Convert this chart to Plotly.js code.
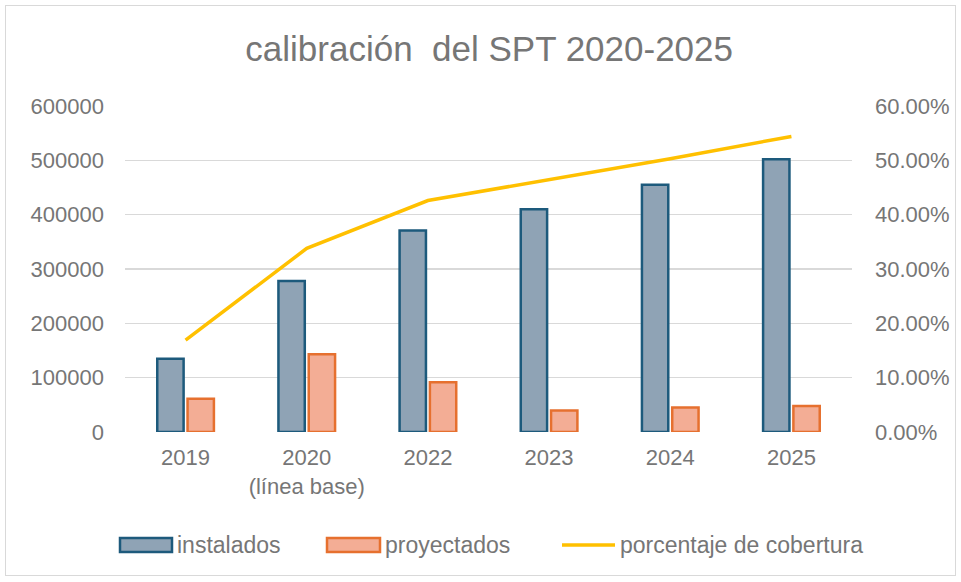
<!DOCTYPE html>
<html>
<head>
<meta charset="utf-8">
<script src="https://cdn.plot.ly/plotly-3.0.1.min.js"></script>
<style>
  html, body { margin: 0; padding: 0; background: #ffffff; }
  #frame { position: absolute; left: 5px; top: 5px; width: 951px; height: 571px; border: 1.5px solid #d9d9d9; box-sizing: border-box; }
  #chart { position: absolute; left: 0; top: 0; width: 961px; height: 582px; }
</style>
</head>
<body>
<div id="frame"></div>
<div id="chart"></div>
<script>
// ---- data ----
const categories = ["2019", "2020<br>(línea base)", "2022", "2023", "2024", "2025"];
const instalados = [135000, 278000, 371000, 410000, 455000, 502000];
const proyectados = [61000, 143000, 91500, 39500, 45000, 48000];
const cobertura = [0.169, 0.338, 0.426, 0.464, 0.503, 0.544];
const seriesNames = ["instalados", "proyectados", "porcentaje de cobertura"];
const titleText = "calibración  del SPT 2020-2025";

// ---- styling ----
const W = 961, H = 582;
const plotL = 125, plotR = 852, plotT = 106, plotB = 432;
const gray = "#767676";
const fontFam = "Liberation Sans, Arial, sans-serif";
const instFill = "#8fa3b5", instLine = "#1d5a7c";
const proyFill = "#f3ad95", proyLine = "#e6702f";
const lineCol = "#ffc000";

const px = x => (x - plotL) / (plotR - plotL);
const py = y => (plotB - y) / (plotB - plotT);

const traces = [
  { type: "bar", name: seriesNames[0], x: categories, y: instalados,
    marker: { color: instFill, line: { color: instLine, width: 2.5 } }, showlegend: false },
  { type: "bar", name: seriesNames[1], x: categories, y: proyectados,
    marker: { color: proyFill, line: { color: proyLine, width: 2.5 } }, showlegend: false },
  { type: "scatter", mode: "lines", name: seriesNames[2], x: categories, y: cobertura, yaxis: "y2",
    line: { color: lineCol, width: 3.5 }, showlegend: false }
];

// custom legend (wide swatches like the original)
const legY = 545;
const legendItems = [
  { kind: "bar", x0: 120, x1: 172, fill: instFill, line: instLine, text: seriesNames[0], tx: 175 },
  { kind: "bar", x0: 327, x1: 380, fill: proyFill, line: proyLine, text: seriesNames[1], tx: 383 },
  { kind: "line", x0: 562, x1: 615, fill: lineCol, line: lineCol, text: seriesNames[2], tx: 618 }
];
const shapes = [], annotations = [];
legendItems.forEach(it => {
  if (it.kind === "bar") {
    shapes.push({ type: "rect", xref: "paper", yref: "paper",
      x0: px(it.x0), x1: px(it.x1), y0: py(legY + 7), y1: py(legY - 7),
      fillcolor: it.fill, line: { color: it.line, width: 2.5 } });
  } else {
    shapes.push({ type: "line", xref: "paper", yref: "paper",
      x0: px(it.x0), x1: px(it.x1), y0: py(legY), y1: py(legY),
      line: { color: it.line, width: 3.5 } });
  }
  annotations.push({ xref: "paper", yref: "paper", x: px(it.tx), y: py(legY),
    xanchor: "left", yanchor: "middle", showarrow: false, text: it.text,
    font: { family: fontFam, size: 23, color: gray } });
});

const layout = {
  width: W, height: H,
  paper_bgcolor: "rgba(0,0,0,0)", plot_bgcolor: "rgba(0,0,0,0)",
  margin: { l: plotL, r: W - plotR, t: plotT, b: H - plotB, pad: 0 },
  font: { family: fontFam, size: 22, color: gray },
  title: { text: titleText, x: 0.509, xanchor: "center", y: 1 - 49 / H, yanchor: "middle",
    font: { family: fontFam, size: 35, color: gray } },
  barmode: "group", bargap: 0.5, bargroupgap: 0.13,
  showlegend: false,
  xaxis: { type: "category", showgrid: false, zeroline: false, showline: false,
    ticks: "", ticklabelstandoff: 10, tickfont: { size: 22, color: gray } },
  yaxis: { range: [0, 600000], dtick: 100000, tick0: 0, tickformat: "d",
    showgrid: true, gridcolor: "#d9d9d9", gridwidth: 1.5, zeroline: false, showline: false,
    ticks: "", ticklabelstandoff: 20, tickfont: { size: 22, color: gray } },
  yaxis2: { range: [0, 0.6], dtick: 0.1, tick0: 0, tickformat: ".2%", overlaying: "y", side: "right",
    showgrid: false, zeroline: false, showline: false, ticks: "", ticklabelstandoff: 22,
    tickfont: { size: 22, color: gray } },
  shapes: shapes,
  annotations: annotations
};

Plotly.newPlot("chart", traces, layout, { staticPlot: true, displayModeBar: false });
</script>
</body>
</html>
